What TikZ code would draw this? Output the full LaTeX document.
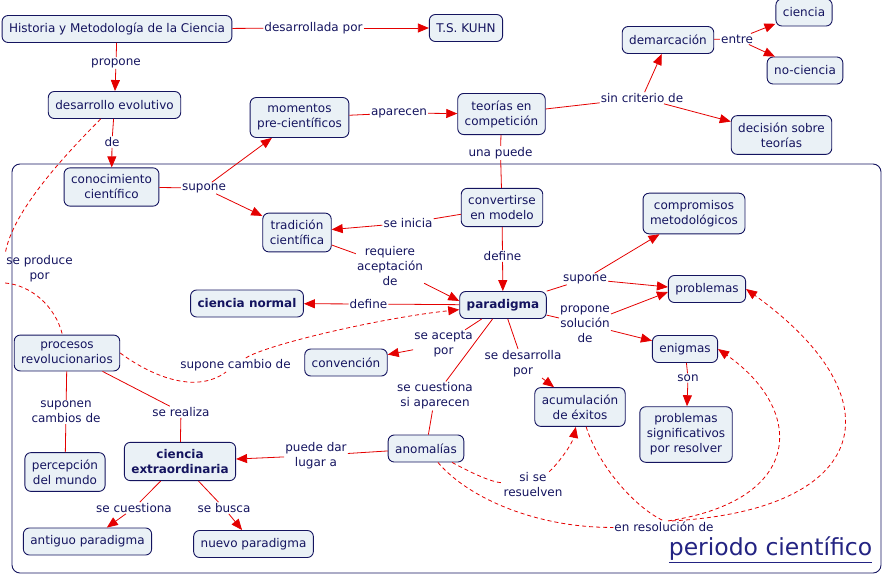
\documentclass[tikz,border=0pt]{standalone}
\usepackage{fontspec}
\setmainfont{DejaVu Sans}
\usetikzlibrary{arrows.meta}
\definecolor{navy}{RGB}{20,20,95}
\definecolor{nfill}{RGB}{234,241,246}
\definecolor{lred}{RGB}{228,0,0}
\definecolor{ttl}{RGB}{35,35,130}
\begin{document}
\begin{tikzpicture}[x=1pt,y=-1pt,
  box/.style={draw=navy, fill=nfill, line width=0.9pt, rounded corners=6pt, inner xsep=7pt, inner ysep=7pt, minimum height=27pt, align=center, text=navy, font=\fontsize{12}{15}\selectfont},
  bbox/.style={box, font=\fontsize{12}{15}\selectfont\bfseries},
  lab/.style={inner sep=1pt, align=center, text=navy, font=\fontsize{12}{15}\selectfont},
  link/.style={draw=lred, line width=0.8pt},
  arr/.style={link, -{Triangle[length=11pt,width=9pt]}},
  dlink/.style={link, dash pattern=on 4pt off 3pt},
  darr/.style={dlink, -{Triangle[length=11pt,width=9pt]}},
  frame/.style={draw=navy, line width=0.9pt, rounded corners=8pt, minimum width=869pt, minimum height=409pt, inner sep=0pt},
  ttlstyle/.style={inner sep=1pt, text=ttl, font=\fontsize{23.5}{27}\selectfont}
]
\useasboundingbox (0,0) rectangle (883,576);

% container
\node[frame] (periodo) at (446.5,368.5) {};
\node[ttlstyle] (ptitle) at (770.5,550) {\underline{periodo científico}};

% concept nodes
\node[box] (hist) at (117,29) {Historia y Metodología de la Ciencia};
\node[box] (kuhn) at (466,28) {T.S. KUHN};
\node[box] (desev) at (114.5,105) {desarrollo evolutivo};
\node[box] (momentos) at (299.5,117.5) {momentos\\pre-científicos};
\node[box] (teorias) at (501.5,114) {teorías en\\competición};
\node[box] (demarc) at (668,40) {demarcación};
\node[box] (ciencia) at (804,12.5) {ciencia};
\node[box] (nociencia) at (805,70.5) {no-ciencia};
\node[box] (decision) at (781.5,135) {decisión sobre\\teorías};
\node[box] (conoc) at (111.5,187) {conocimiento\\científico};
\node[box] (tradicion) at (297,232.5) {tradición\\científica};
\node[box] (convertirse) at (502,207.5) {convertirse\\en modelo};
\node[box] (compromisos) at (694,213.5) {compromisos\\metodológicos};
\node[box] (problemas) at (707,289) {problemas};
\node[bbox] (cnormal) at (247,303.5) {ciencia normal};
\node[bbox] (paradigma) at (503,305) {paradigma};
\node[box] (enigmas) at (685,349) {enigmas};
\node[box] (procesos) at (67,353) {procesos\\revolucionarios};
\node[box] (convencion) at (346,362.5) {convención};
\node[box] (acumulacion) at (580,407) {acumulación\\de éxitos};
\node[box] (probsig) at (686,434.5) {problemas\\significativos\\por resolver};
\node[bbox] (cextra) at (180,461.5) {ciencia\\extraordinaria};
\node[box] (percepcion) at (65,472) {percepción\\del mundo};
\node[box] (anomalias) at (426,448.5) {anomalías};
\node[box] (antiguo) at (87.5,541.5) {antiguo paradigma};
\node[box] (nuevo) at (253.5,544) {nuevo paradigma};

% linking phrases
\node[lab] (lDesarr) at (313.5,28) {desarrollada por};
\node[lab] (lPropone) at (116,63) {propone};
\node[lab] (lDe) at (112,142) {de};
\node[lab] (lSupone1) at (204,188) {supone};
\node[lab] (lAparecen) at (399,113) {aparecen};
\node[lab] (lUna) at (500.5,153) {una puede};
\node[lab] (lSin) at (642,98) {sin criterio de};
\node[lab] (lEntre) at (737,39) {entre};
\node[lab] (lInicia) at (408,223) {se inicia};
\node[lab] (lRequiere) at (390,266) {requiere\\aceptación\\de};
\node[lab] (lDefine1) at (502.5,256) {define};
\node[lab] (lDefine2) at (368.5,304) {define};
\node[lab] (lSupone2) at (585,279) {supone};
\node[lab] (lPropSol) at (585,324) {propone\\solución\\de};
\node[lab] (lAcepta) at (443.5,344) {se acepta\\por};
\node[lab] (lDesarrolla) at (523,363.5) {se desarrolla\\por};
\node[lab] (lCuestiona1) at (435,396) {se cuestiona\\si aparecen};
\node[lab] (lSon) at (688,378) {son};
\node[lab] (lProduce) at (39.5,268.5) {se produce\\por};
\node[lab] (lCambio) at (235.5,365) {supone cambio de};
\node[lab] (lSuponen) at (66,412) {suponen\\cambios de};
\node[lab] (lRealiza) at (181,412) {se realiza};
\node[lab] (lPuede) at (316,455.5) {puede dar\\lugar a};
\node[lab] (lCuestiona2) at (134,508) {se cuestiona};
\node[lab] (lBusca) at (224,508) {se busca};
\node[lab] (lResuelven) at (533,485) {si se\\resuelven};
\node[lab] (lResol) at (664,527) {en resolución de};

% solid connectors
\draw[link] (hist) -- (lDesarr);
\draw[arr] (lDesarr) -- (kuhn);
\draw[link] (hist) -- (lPropone);
\draw[arr] (lPropone) -- (desev);
\draw[link] (desev) -- (lDe);
\draw[arr] (lDe) -- (conoc);
\draw[link] (conoc) -- (lSupone1);
\draw[arr] (lSupone1) -- (momentos);
\draw[arr] (lSupone1) -- (tradicion);
\draw[link] (momentos) -- (lAparecen);
\draw[arr] (lAparecen) -- (teorias);
\draw[link] (teorias) -- (lSin);
\draw[arr] (lSin) -- (demarc);
\draw[arr] (lSin) -- (decision);
\draw[link] (demarc) -- (lEntre);
\draw[arr] (lEntre) -- (ciencia);
\draw[arr] (lEntre) -- (nociencia);
\draw[link] (teorias) -- (lUna);
\draw[link] (lUna) -- (convertirse);
\draw[link] (convertirse) -- (lInicia);
\draw[arr] (lInicia) -- (tradicion);
\draw[link] (convertirse) -- (lDefine1);
\draw[arr] (lDefine1) -- (paradigma);
\draw[link] (tradicion) -- (lRequiere);
\draw[arr] (lRequiere) -- ([yshift=4pt]paradigma.west);
\draw[link] (paradigma) -- (lDefine2);
\draw[arr] (lDefine2) -- (cnormal);
\draw[link] (paradigma) -- (lSupone2);
\draw[arr] (lSupone2) -- (compromisos);
\draw[arr] (lSupone2) -- ([yshift=2pt]problemas.west);
\draw[link] (paradigma) -- (lPropSol);
\draw[arr] (lPropSol) -- ([yshift=-3pt]problemas.west);
\draw[arr] (lPropSol) -- (enigmas);
\draw[link] (paradigma) -- (lAcepta);
\draw[arr] (lAcepta) -- (convencion);
\draw[link] (paradigma) -- (lDesarrolla);
\draw[arr] (lDesarrolla) -- (acumulacion);
\draw[link] (paradigma) -- (lCuestiona1);
\draw[link] (lCuestiona1) -- (anomalias);
\draw[link] (enigmas) -- (lSon);
\draw[arr] (lSon) -- (probsig);
\draw[link] (anomalias) -- (lPuede);
\draw[arr] (lPuede) -- (cextra);
\draw[link] (procesos) -- (lSuponen);
\draw[link] (lSuponen) -- (percepcion);
\draw[link] (procesos) -- (lRealiza);
\draw[link] (lRealiza) -- (cextra);
\draw[link] (cextra) -- (lCuestiona2);
\draw[arr] (lCuestiona2) -- (antiguo);
\draw[link] (cextra) -- (lBusca);
\draw[arr] (lBusca) -- (nuevo);

% dashed connectors
\draw[dlink] (desev) .. controls (70,150) and (12,210) .. (lProduce.north west);
\draw[dlink] (lProduce.south west) .. controls (30,285) and (55,305) .. (procesos);
\draw[dlink] (procesos.east) .. controls (150,375) and (195,395) .. (lCambio);
\draw[darr] (lCambio) .. controls (265,345) and (380,318) .. (paradigma);
\draw[dlink] (anomalias) .. controls (470,472) and (490,482) .. (lResuelven);
\draw[darr] (lResuelven) .. controls (556,466) and (572,445) .. (acumulacion);
\draw[dlink] (anomalias) .. controls (470,500) and (540,528) .. (lResol);
\draw[dlink] (acumulacion) .. controls (598,465) and (635,508) .. (lResol.north);
\draw[darr] ([xshift=4pt]lResol.north) .. controls (805,500) and (805,410) .. (enigmas.east);
\draw[darr] ([xshift=8pt]lResol.north) .. controls (870,510) and (900,400) .. (problemas.east);
\end{tikzpicture}
\end{document}
